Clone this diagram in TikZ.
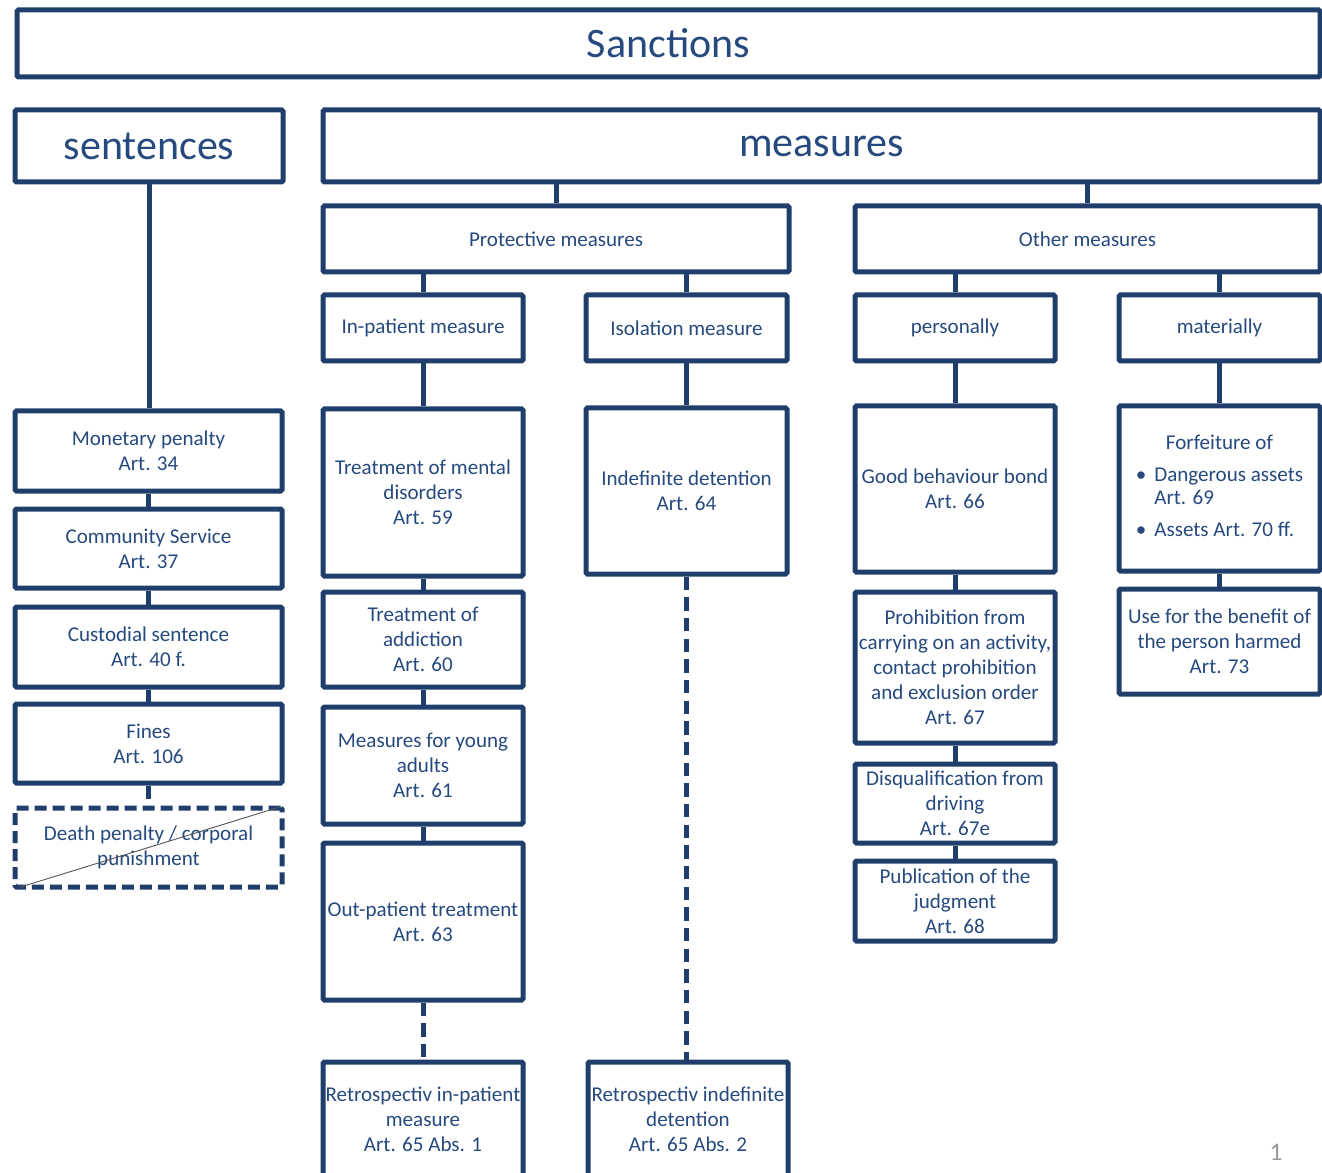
\documentclass[tikz,border=0pt]{standalone}
\usepackage{fontspec}
\setmainfont{Carlito}
\definecolor{frame}{HTML}{203E6B}
\definecolor{ink}{HTML}{26497E}
\definecolor{pagegrey}{HTML}{9A9A9A}
\newcommand\chartbody{\fontsize{15.8}{18.75}\selectfont}
\newcommand\charthead{\fontsize{31.5}{36}\selectfont}
% \chartbox[style]{name}{x1}{y1}{x2}{y2}{text}: a box spanning the two corners
\newcommand\chartbox[7][]{%
  \node[box,#1,minimum width={(#5-#3)*0.75pt},minimum height={(#6-#4)*0.75pt}]
    (#2) at ({(#3+#5)/2},{(#4+#6)/2}) {#7};}

\begin{document}
\begin{tikzpicture}[x=0.75pt,y=-0.75pt,
  box/.style={draw=frame, line width=3.75pt, inner sep=0pt, align=center,
              text=ink, font=\chartbody, rounded corners=1pt},
  headbox/.style={font=\charthead},
  dashbox/.style={dash pattern=on 9pt off 4.5pt},
  link/.style={draw=frame, line width=3.75pt},
  dashlink/.style={link, dash pattern=on 10pt off 5.5pt}]

\useasboundingbox (0,0) rectangle (1322,1173);
\clip (0,0) rectangle (1322,1173);

% top level
\chartbox[headbox]{sanc}{17}{10}{1320}{77}{Sanctions}
\chartbox[headbox]{sent}{15}{110}{283}{182}{sentences}
\chartbox[headbox]{meas}{323}{110}{1320}{182}{measures}

% sentences column
\chartbox{mon}{15}{411}{282}{491}{Monetary penalty\\Art. 34}
\chartbox{com}{15}{509}{282}{588}{Community Service\\Art. 37}
\chartbox{cus}{15}{607}{282}{687}{Custodial sentence\\Art. 40 f.}
\chartbox{fin}{15}{704}{282}{783}{Fines\\Art. 106}
\chartbox[dashbox]{dp}{15}{808}{282}{887}{Death penalty / corporal\\punishment}
\draw[draw=black!65, line width=0.7pt, shorten <=6pt, shorten >=4pt] (dp.south west) -- (dp.north east);

% measures: second level
\chartbox{prot}{323}{206}{789}{272}{Protective measures}
\chartbox{oth}{855}{206}{1320}{272}{Other measures}

\chartbox{inpat}{323}{295}{523}{361}{In-patient measure}
\chartbox{iso}{586}{295}{787}{361}{Isolation measure}
\chartbox{pers}{855}{295}{1055}{361}{personally}
\chartbox{mat}{1119}{295}{1320}{361}{materially}

% in-patient column
\chartbox{tmd}{323}{409}{523}{576}{Treatment of mental\\disorders\\Art. 59}
\chartbox{tadd}{323}{592}{523}{687}{Treatment of\\addiction\\Art. 60}
\chartbox{young}{323}{707}{523}{824}{Measures for young\\adults\\Art. 61}
\chartbox{outp}{323}{843}{523}{1000}{Out-patient treatment\\Art. 63}
\chartbox{retro1}{323}{1062}{523}{1176}{Retrospectiv in-patient\\measure\\Art. 65 Abs. 1}

% isolation column
\chartbox{indef}{586}{408}{787}{574}{Indefinite detention\\Art. 64}
\chartbox{retro2}{588}{1062}{788}{1176}{Retrospectiv indefinite\\detention\\Art. 65 Abs. 2}

% personal measures
\chartbox{good}{855}{406}{1055}{572}{Good behaviour bond\\Art. 66}
\chartbox{prohib}{855}{592}{1055}{743}{Prohibition from\\carrying on an activity,\\contact prohibition\\and exclusion order\\Art. 67}
\chartbox{disq}{855}{764}{1055}{843}{Disqualification from\\driving\\Art. 67e}
\chartbox{publ}{855}{861}{1055}{941}{Publication of the\\judgment\\Art. 68}

% material measures
\chartbox{forf}{1119}{406}{1320}{571}{\def\arraystretch{0.9}%
  \begin{tabular}{@{}l@{\hspace{6pt}}l@{}}
    \multicolumn{2}{c}{Forfeiture of}\\[7pt]
    \textbullet & Dangerous assets\\
                & Art. 69\\[7pt]
    \textbullet & Assets Art. 70 ff.
  \end{tabular}}
\chartbox{use}{1119}{589}{1320}{694}{Use for the benefit of\\the person harmed\\Art. 73}

% connectors
\draw[link] (sent.south) -- (sent.south |- mon.north);
\draw[link] (mon.south) -- (com.north);
\draw[link] (com.south) -- (cus.north);
\draw[link] (cus.south) -- (fin.north);
\draw[dashlink] (fin.south) -- (fin.south |- dp.north);

\draw[link] (meas.south -| prot.north) -- (prot.north);
\draw[link] (meas.south -| oth.north) -- (oth.north);
\draw[link] (prot.south -| inpat.north) -- (inpat.north);
\draw[link] (prot.south -| iso.north) -- (iso.north);
\draw[link] (oth.south -| pers.north) -- (pers.north);
\draw[link] (oth.south -| mat.north) -- (mat.north);

\draw[link] (inpat.south) -- (tmd.north);
\draw[link] (tmd.south) -- (tadd.north);
\draw[link] (tadd.south) -- (young.north);
\draw[link] (young.south) -- (outp.north);
\draw[dashlink] (outp.south) -- (retro1.north);

\draw[link] (iso.south) -- (indef.north);
\draw[dashlink] (indef.south) -- (indef.south |- retro2.north);

\draw[link] (pers.south) -- (good.north);
\draw[link] (good.south) -- (prohib.north);
\draw[link] (prohib.south) -- (disq.north);
\draw[link] (disq.south) -- (publ.north);

\draw[link] (mat.south) -- (forf.north);
\draw[link] (forf.south) -- (use.north);

% page number
\node[text=pagegrey, font=\fontsize{19}{22}\selectfont] (pageno) at (1276,1152) {1};
\end{tikzpicture}
\end{document}
